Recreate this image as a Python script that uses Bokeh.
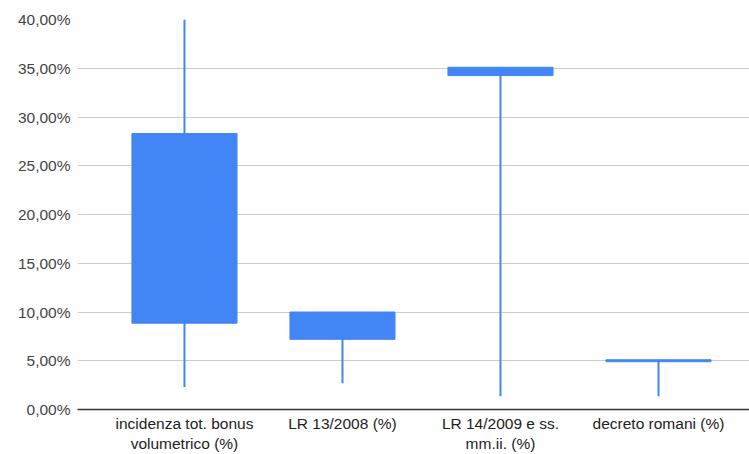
from bokeh.plotting import figure
from bokeh.models import FixedTicker, Range1d
from bokeh.embed import file_html
from bokeh.resources import INLINE

categories = ["incidenza tot. bonus\nvolumetrico (%)", "LR 13/2008 (%)",
              "LR 14/2009 e ss.\nmm.ii. (%)", "decreto romani (%)"]
low = [2.3, 2.7, 1.35, 1.35]
box_bottom = [8.85, 7.2, 34.25, 4.9]
box_top = [28.3, 10.0, 35.1, 5.1]
high = [40.0, 10.0, 35.1, 5.1]
y_ticks = [0, 5, 10, 15, 20, 25, 30, 35, 40]
y_tick_labels = ["0,00%", "5,00%", "10,00%", "15,00%", "20,00%", "25,00%",
                 "30,00%", "35,00%", "40,00%"]

xs = list(range(len(categories)))
BLUE = "#4285F4"
FONT = "Liberation Sans"

p = figure(width=749, height=454, output_backend="svg", toolbar_location=None,
           x_range=Range1d(-0.677, 3.576), y_range=Range1d(0, 40))
p.min_border_left = 77
p.min_border_right = 0
p.min_border_top = 19
p.min_border_bottom = 45
p.outline_line_color = None

p.segment(x0=xs, y0=low, x1=xs, y1=high, line_color=BLUE, line_width=2)
p.vbar(x=xs, bottom=box_bottom, top=box_top, width=0.665,
       fill_color=BLUE, line_color=BLUE, line_width=1)

p.xgrid.grid_line_color = None
p.ygrid.grid_line_color = "#cccccc"
p.ygrid.grid_line_width = 1

p.yaxis.ticker = FixedTicker(ticks=y_ticks)
p.yaxis.major_label_overrides = {t: l for t, l in zip(y_ticks, y_tick_labels)}
p.yaxis.axis_line_color = None
p.yaxis.major_tick_line_color = None
p.yaxis.minor_tick_line_color = None
p.yaxis.major_tick_out = 0
p.yaxis.major_tick_in = 0
p.yaxis.minor_tick_out = 0
p.yaxis.major_label_standoff = 7
p.yaxis.major_label_text_font = FONT
p.yaxis.major_label_text_font_size = "15.5px"
p.yaxis.major_label_text_color = "#444444"

p.xaxis.ticker = FixedTicker(ticks=xs)
p.xaxis.major_label_overrides = {x: c for x, c in zip(xs, categories)}
p.xaxis.axis_line_color = "#333333"
p.xaxis.axis_line_width = 1.5
p.xaxis.major_tick_line_color = None
p.xaxis.minor_tick_line_color = None
p.xaxis.major_tick_out = 0
p.xaxis.major_tick_in = 0
p.xaxis.minor_tick_out = 0
p.xaxis.major_label_standoff = 5
p.xaxis.major_label_text_font = FONT
p.xaxis.major_label_text_font_size = "15.5px"
p.xaxis.major_label_text_color = "#222222"

open("out.html", "w").write(file_html(p, INLINE))
